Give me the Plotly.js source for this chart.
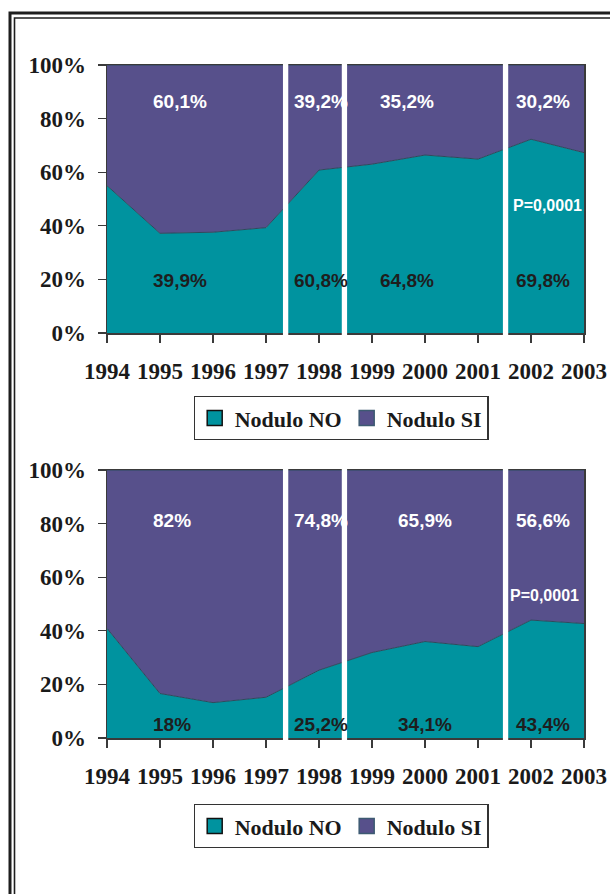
<!DOCTYPE html>
<html><head><meta charset="utf-8">
<script src="https://cdn.plot.ly/plotly-3.0.1.min.js"></script>
<style>html,body{margin:0;padding:0;background:#fff}#chart{width:610px;height:894px}</style>
</head><body><div id="chart"></div>
<script>
// ---- data ----
const years = [1994, 1995, 1996, 1997, 1998, 1999, 2000, 2001, 2002, 2003];
const seriesNames = ['Nodulo NO', 'Nodulo SI'];
const noTop = [55.0, 37.2, 37.6, 39.3, 60.8, 63.0, 66.4, 64.9, 72.3, 67.3];
const siTop = [45.0, 62.8, 62.4, 60.7, 39.2, 37.0, 33.6, 35.1, 27.7, 32.7];
const noBottom = [40.9, 16.6, 13.2, 15.2, 25.3, 31.9, 36.0, 34.1, 44.0, 42.7];
const siBottom = [59.1, 83.4, 86.8, 84.8, 74.7, 68.1, 64.0, 65.9, 56.0, 57.3];
const siLabelsTop = ['60,1%', '39,2%', '35,2%', '30,2%'];
const noLabelsTop = ['39,9%', '60,8%', '64,8%', '69,8%'];
const siLabelsBottom = ['82%', '74,8%', '65,9%', '56,6%'];
const noLabelsBottom = ['18%', '25,2%', '34,1%', '43,4%'];
const pLabel = 'P=0,0001';
const periodBreaks = [1997.37, 1998.48, 2001.52];

// ---- styling ----
const teal = '#00939f';
const purple = '#57508b';
const edge = '#2c4a5c';
const axisColor = '#3a3a3a';
const tickFont = {family: 'Liberation Serif', size: 23, color: '#1a1a1a', weight: 'bold'};
const labFont = (c, s) => ({family: 'Liberation Sans', size: s || 19, color: c, weight: 'bold'});

function areaTraces(no, si, xa, ya) {
  return [
    {x: years, y: no, xaxis: xa, yaxis: ya, stackgroup: xa, mode: 'lines', name: seriesNames[0],
     line: {color: edge, width: 1}, fillcolor: teal, showlegend: false, hoverinfo: 'x+y'},
    {x: years, y: si, xaxis: xa, yaxis: ya, stackgroup: xa, mode: 'lines', name: seriesNames[1],
     line: {color: edge, width: 1}, fillcolor: purple, showlegend: false, hoverinfo: 'x+y'}
  ];
}
function legendTraces(leg) {
  return [
    {x: [null], y: [null], mode: 'markers', name: seriesNames[0], legend: leg,
     marker: {symbol: 'square', size: 15, color: teal, line: {color: '#111', width: 1.5}}},
    {x: [null], y: [null], mode: 'markers', name: seriesNames[1], legend: leg,
     marker: {symbol: 'square', size: 15, color: purple, line: {color: '#3d5a72', width: 1.5}}}
  ];
}

const data = [].concat(
  areaTraces(noTop, siTop, 'x', 'y'),
  areaTraces(noBottom, siBottom, 'x2', 'y2'),
  legendTraces('legend'),
  legendTraces('legend2')
);

const xDom = [107 / 610, 584 / 610];
const topDom = [(894 - 333) / 894, (894 - 65) / 894];
const botDom = [(894 - 738) / 894, (894 - 470) / 894];

function xAxis(anchor) {
  return {domain: xDom, anchor: anchor, range: [1994, 2003], tickmode: 'array', tickvals: years,
    ticktext: years.map(String), ticks: 'outside', ticklen: 8, tickwidth: 1.2, tickcolor: axisColor,
    showline: true, linecolor: axisColor, linewidth: 1.5, mirror: true, showgrid: false, zeroline: false,
    tickfont: tickFont, ticklabelstandoff: 9, fixedrange: true};
}
function yAxis(anchor, dom) {
  return {domain: dom, anchor: anchor, range: [0, 100], dtick: 20, tick0: 0, ticksuffix: '%',
    ticks: 'outside', ticklen: 8, tickwidth: 1.2, tickcolor: axisColor,
    showline: true, linecolor: axisColor, linewidth: 1.5, mirror: true, showgrid: false, zeroline: false,
    tickfont: tickFont, ticklabelstandoff: 7, fixedrange: true};
}

const topLabelX = [1995.38, 1998.04, 1999.66, 2002.22];
const botLabelX = [1995.22, 1998.04, 2000.0, 2002.22];
const annotations = [];
function addLabels(texts, xs, y, xr, yr, color) {
  texts.forEach((t, i) => annotations.push({text: t, x: xs[i], y: y, xref: xr, yref: yr,
    showarrow: false, font: labFont(color), xanchor: 'center', yanchor: 'middle'}));
}
addLabels(siLabelsTop, topLabelX, 86.2, 'x', 'y', '#ffffff');
addLabels(noLabelsTop, topLabelX, 19.5, 'x', 'y', '#1e1e1e');
addLabels(siLabelsBottom, botLabelX, 81, 'x2', 'y2', '#ffffff');
addLabels(noLabelsBottom, botLabelX, 5.1, 'x2', 'y2', '#1e1e1e');
annotations.push({text: pLabel, x: 2002.32, y: 47.4, xref: 'x', yref: 'y', showarrow: false,
  font: labFont('#ffffff', 16), xanchor: 'center', yanchor: 'middle'});
annotations.push({text: pLabel, x: 2002.26, y: 53, xref: 'x2', yref: 'y2', showarrow: false,
  font: labFont('#ffffff', 16), xanchor: 'center', yanchor: 'middle'});

const shapes = [];
const gapW = 0.1;
[['x', 'y'], ['x2', 'y2']].forEach(([xr, yr]) => {
  periodBreaks.forEach(b => shapes.push({type: 'rect', xref: xr, yref: yr + ' domain',
    x0: b - gapW / 2, x1: b + gapW / 2, y0: -0.012, y1: 1.012, fillcolor: '#ffffff',
    line: {width: 0}, layer: 'above'}));
});
// page frame (double rule)
shapes.push({type: 'rect', xref: 'paper', yref: 'paper', x0: 10 / 610, x1: 1.2, y0: -0.2, y1: 1 - 13 / 894,
  line: {color: '#1e1e1e', width: 3}, fillcolor: 'rgba(0,0,0,0)'});
shapes.push({type: 'rect', xref: 'paper', yref: 'paper', x0: 14.5 / 610, x1: 1.2, y0: -0.2, y1: 1 - 18 / 894,
  line: {color: '#1e1e1e', width: 1.6}, fillcolor: 'rgba(0,0,0,0)'});

const legendBase = {orientation: 'h', xanchor: 'center', yanchor: 'top', x: 341 / 610,
  traceorder: 'normal',
  bordercolor: '#333', borderwidth: 1.2, bgcolor: '#ffffff',
  font: {family: 'Liberation Serif', size: 22, color: '#1a1a1a', weight: 'bold'},
  itemwidth: 30, tracegroupgap: 0, itemclick: false, itemdoubleclick: false};

const layout = {
  width: 610, height: 894, margin: {l: 0, r: 0, t: 0, b: 0},
  paper_bgcolor: '#ffffff', plot_bgcolor: '#ffffff', showlegend: true,
  xaxis: xAxis('y'), yaxis: yAxis('x', topDom),
  xaxis2: xAxis('y2'), yaxis2: yAxis('x2', botDom),
  legend: Object.assign({}, legendBase, {y: 1 - 396 / 894}),
  legend2: Object.assign({}, legendBase, {y: 1 - 804 / 894}),
  annotations: annotations, shapes: shapes
};

Plotly.newPlot('chart', data, layout, {displayModeBar: false, staticPlot: true});
</script>
</body></html>
